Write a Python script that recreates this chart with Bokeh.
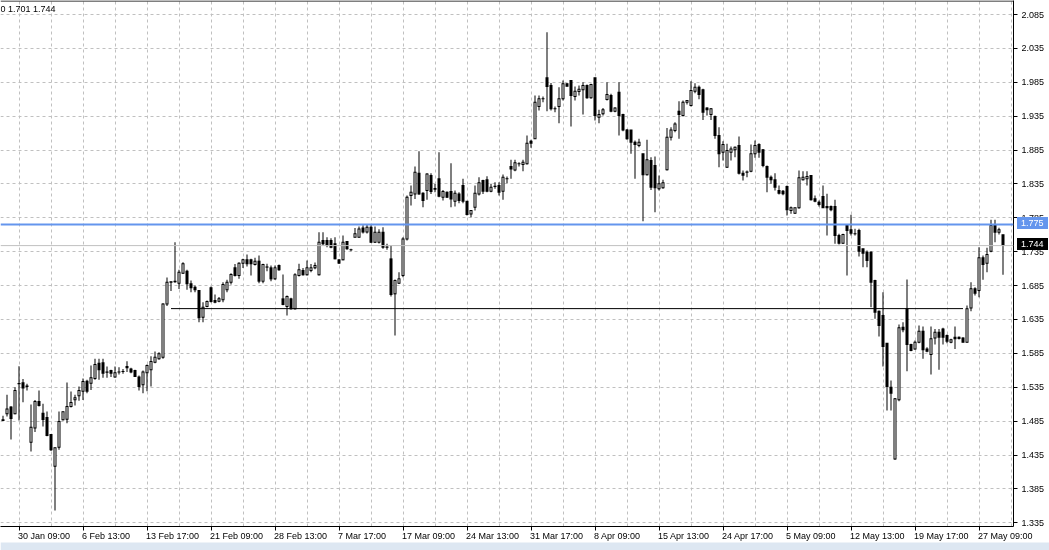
from bokeh.plotting import figure
from bokeh.models import Range1d, FixedTicker, Span, Label, ColumnDataSource, PrintfTickFormatter
from bokeh.core.properties import value
from bokeh.embed import file_html
from bokeh.resources import INLINE

# ---------------- data ----------------
opens = [
1.487,1.496,1.506,1.496,1.540,1.5415,1.537,1.454,1.475,1.514,
1.4967,1.4904,1.4653,1.4185,1.4466,1.4869,1.4879,1.5066,1.5164,1.5223,
1.5292,1.544,1.541,1.548,1.5705,1.571,1.557,1.5597,1.550,1.5573,
1.5582,1.5656,1.562,1.5597,1.550,1.5386,1.5563,1.5607,1.572,1.577,
1.5794,1.658,1.690,1.6913,1.6885,1.7033,1.7063,1.6876,1.6827,1.6777,
1.6384,1.6541,1.6817,1.6630,1.6620,1.6640,1.6787,1.690,1.7112,1.700,
1.718,1.7230,1.7230,1.7161,1.7210,1.6915,1.7122,1.7112,1.6949,1.7146,
1.6654,1.6541,1.6654,1.6507,1.6999,1.7073,1.7009,1.7073,1.7112,1.7009,
1.7515,1.7515,1.7515,1.7466,1.7230,1.7230,1.750,1.7377,1.7564,1.7564,
1.770,1.764,1.771,1.749,1.749,1.7638,1.7416,1.7244,1.6728,1.6885,
1.6998,1.7539,1.8179,1.8203,1.8508,1.8213,1.8252,1.8474,1.8282,1.8425,
1.8154,1.8228,1.8238,1.8095,1.8203,1.8326,1.8095,1.7908,1.8007,1.8203,
1.8400,1.841,1.8243,1.8312,1.8326,1.8243,1.8425,1.8607,1.8557,1.8646,
1.8636,1.8646,1.8981,1.9015,1.9492,1.9605,1.9915,1.9802,1.9458,1.9492,
1.9605,1.9827,1.9876,1.9640,1.9713,1.9738,1.9802,1.962,1.9915,1.9334,
1.9384,1.9595,1.9655,1.9423,1.9704,1.9374,1.9147,1.9147,1.8966,1.8917,
1.8794,1.8484,1.8695,1.8621,1.8277,1.8292,1.8558,1.9040,1.9138,1.9423,
1.9359,1.9556,1.9507,1.9718,1.9778,1.9738,1.9472,1.9374,1.9345,1.9064,
1.8818,1.8597,1.8818,1.8853,1.8917,1.8508,1.8523,1.8538,1.8794,1.8932,
1.8853,1.8607,1.8449,1.8410,1.8253,1.8243,1.8312,1.7958,1.7918,1.7997,
1.841,1.8425,1.8474,1.8130,1.8081,1.8164,1.8017,1.8017,1.8017,1.7589,
1.7476,1.7737,1.7673,1.7614,1.7663,1.7392,1.7343,1.7343,1.6925,1.6472,
1.6408,1.6000,1.5351,1.4290,1.5164,1.6236,1.6507,1.5980,1.5916,1.6015,
1.6177,1.5916,1.5833,1.6078,1.6162,1.6211,1.6113,1.6015,1.6088,1.6088,
1.6078,1.6015,1.6521,1.6802,1.6777,1.7259,1.7181,1.7358,1.7737,1.7638,
1.760]

highs = [
1.493,1.524,1.507,1.535,1.566,1.547,1.540,1.5095,1.516,1.530,
1.5105,1.4992,1.466,1.446,1.4992,1.4992,1.542,1.5287,1.5238,1.536,
1.548,1.546,1.567,1.577,1.577,1.577,1.5656,1.5607,1.5656,1.5646,
1.562,1.5735,1.5636,1.5607,1.5524,1.5597,1.5686,1.5809,1.5878,1.5868,
1.659,1.697,1.691,1.749,1.7082,1.7195,1.7082,1.6925,1.685,1.6777,
1.6605,1.663,1.6836,1.672,1.668,1.690,1.6935,1.7033,1.717,1.7195,
1.7245,1.7308,1.7245,1.726,1.7294,1.7171,1.7171,1.7146,1.7146,1.716,
1.7013,1.6704,1.667,1.7033,1.7171,1.711,1.722,1.717,1.719,1.7638,
1.7638,1.7564,1.755,1.7564,1.724,1.7589,1.750,1.7392,1.770,1.772,
1.774,1.776,1.774,1.772,1.768,1.771,1.7466,1.7441,1.694,1.7048,
1.7564,1.8179,1.8326,1.8607,1.8833,1.8228,1.8508,1.8508,1.835,1.8818,
1.8262,1.8238,1.8656,1.8252,1.8228,1.8425,1.8095,1.7967,1.8326,1.8449,
1.841,1.8464,1.8351,1.8376,1.8376,1.8488,1.8459,1.8705,1.8705,1.8671,
1.8705,1.9064,1.900,1.9655,1.9655,1.964,2.0589,1.9841,1.9492,1.9778,
1.9876,1.9837,1.9876,1.9787,1.9802,1.9851,1.9817,1.9827,1.9915,1.9443,
1.9472,1.9851,1.9679,1.9482,1.9851,1.9384,1.9162,1.9147,1.899,1.9015,
1.8794,1.900,1.8744,1.8754,1.8474,1.8410,1.9177,1.9187,1.9261,1.9571,
1.9581,1.9590,1.9866,1.9837,1.9802,1.9753,1.9482,1.9472,1.936,1.9187,
1.8981,1.8941,1.8902,1.8902,1.9049,1.8548,1.8548,1.8931,1.899,1.8952,
1.8867,1.8622,1.8474,1.8509,1.8326,1.8262,1.8327,1.8017,1.7997,1.8548,
1.8538,1.8538,1.8474,1.8179,1.8106,1.8327,1.8204,1.8031,1.8115,1.7614,
1.7614,1.7737,1.7894,1.7687,1.7687,1.7392,1.7368,1.7358,1.6935,1.6482,
1.6753,1.6000,1.5449,1.5190,1.6275,1.6310,1.6940,1.5990,1.6039,1.6261,
1.6246,1.5941,1.6246,1.6211,1.6211,1.6226,1.6128,1.6064,1.6246,1.6098,
1.6088,1.6556,1.6900,1.6826,1.7417,1.7294,1.7407,1.7820,1.7820,1.7702,
1.760]

lows = [
1.485,1.492,1.458,1.495,1.486,1.513,1.530,1.440,1.469,1.5066,
1.477,1.4628,1.441,1.353,1.4426,1.486,1.482,1.505,1.508,1.515,
1.516,1.526,1.531,1.546,1.546,1.549,1.549,1.550,1.549,1.5538,
1.5548,1.5573,1.5558,1.550,1.530,1.5263,1.5292,1.536,1.5705,1.5755,
1.577,1.655,1.677,1.689,1.680,1.7023,1.6787,1.6753,1.675,1.631,
1.631,1.653,1.660,1.659,1.6605,1.6605,1.6753,1.6866,1.6984,1.695,
1.711,1.713,1.700,1.7146,1.6885,1.6885,1.7063,1.6915,1.6935,1.707,
1.656,1.6408,1.6497,1.6497,1.6984,1.6999,1.6999,1.7048,1.709,1.6999,
1.7441,1.7417,1.740,1.7240,1.717,1.7225,1.7377,1.7358,1.7564,1.7560,
1.762,1.762,1.748,1.748,1.747,1.7392,1.738,1.6688,1.6113,1.6875,
1.6974,1.7515,1.8031,1.8129,1.819,1.8007,1.8115,1.8203,1.8228,1.8154,
1.8105,1.8144,1.8007,1.8016,1.8065,1.8065,1.7884,1.786,1.7957,1.8179,
1.8203,1.8228,1.8228,1.8277,1.8179,1.8115,1.8361,1.8425,1.8538,1.8607,
1.8538,1.8636,1.8882,1.9015,1.9433,1.9556,1.9423,1.9433,1.9408,1.9246,
1.9581,1.9787,1.9197,1.9581,1.9655,1.9374,1.9605,1.9605,1.9286,1.9246,
1.9359,1.958,1.9408,1.9408,1.9064,1.9128,1.900,1.8794,1.8425,1.8892,
1.7800,1.8474,1.8262,1.7933,1.8252,1.8277,1.8548,1.899,1.9113,1.9015,
1.9345,1.9522,1.9492,1.9689,1.9600,1.9295,1.9359,1.9295,1.9015,1.8597,
1.8695,1.8587,1.8695,1.8744,1.8489,1.8400,1.8449,1.8523,1.8735,1.8735,
1.8597,1.8228,1.8351,1.8253,1.8194,1.8184,1.7884,1.7909,1.7909,1.7983,
1.84,1.8327,1.8106,1.8081,1.8017,1.7997,1.7589,1.7948,1.7466,1.7456,
1.7466,1.6999,1.7589,1.7589,1.7279,1.7122,1.7122,1.6531,1.6359,1.6099,
1.5656,1.5007,1.5007,1.4279,1.5144,1.6162,1.5587,1.5882,1.5902,1.6000,
1.5769,1.5867,1.5538,1.5980,1.5607,1.5980,1.6000,1.6000,1.5916,1.6054,
1.6010,1.6010,1.6472,1.6704,1.6679,1.6935,1.7048,1.7343,1.7490,1.7604,
1.701]

closes = [
1.486,1.503,1.489,1.530,1.5405,1.534,1.536,1.476,1.514,1.508,
1.4874,1.4638,1.4426,1.4456,1.4844,1.4987,1.5066,1.5125,1.5194,1.5302,
1.5435,1.529,1.549,1.5686,1.5607,1.5558,1.5573,1.5558,1.5563,1.5575,
1.5584,1.5636,1.5573,1.5509,1.5361,1.5573,1.5671,1.573,1.5794,1.5843,
1.658,1.690,1.6905,1.6908,1.7048,1.7171,1.6876,1.6817,1.6787,1.6374,
1.6531,1.6615,1.6615,1.6605,1.6654,1.6866,1.690,1.7013,1.700,1.718,
1.723,1.7171,1.7171,1.7210,1.6915,1.7161,1.7125,1.6949,1.7112,1.7083,
1.6571,1.6689,1.6507,1.7009,1.7083,1.7009,1.7112,1.7112,1.7146,1.749,
1.7466,1.7441,1.7417,1.7245,1.7181,1.749,1.7392,1.7380,1.7614,1.7685,
1.764,1.771,1.749,1.7638,1.7638,1.7416,1.7420,1.6718,1.6924,1.6949,
1.7539,1.8154,1.8228,1.8523,1.8203,1.8105,1.8498,1.8238,1.8272,1.8169,
1.8238,1.8154,1.8129,1.8213,1.8105,1.8095,1.7898,1.7957,1.8213,1.8366,
1.8243,1.8243,1.8302,1.8314,1.8228,1.8449,1.8427,1.8572,1.8661,1.8648,
1.8671,1.8951,1.8951,1.9556,1.9605,1.9607,1.9787,1.9458,1.9460,1.9605,
1.9827,1.9792,1.9655,1.9718,1.9748,1.9802,1.962,1.9817,1.9359,1.9374,
1.9443,1.9669,1.9423,1.9472,1.9359,1.9147,1.9015,1.8966,1.8931,1.8966,
1.8484,1.8705,1.8302,1.8292,1.8351,1.8366,1.9040,1.9147,1.9236,1.9374,
1.9556,1.9581,1.9728,1.9778,1.9669,1.9409,1.9443,1.9458,1.9064,1.8794,
1.8931,1.8843,1.8867,1.8892,1.8508,1.8479,1.8525,1.8794,1.8917,1.8819,
1.8622,1.8449,1.8410,1.8302,1.8213,1.8204,1.7968,1.7997,1.7997,1.844,
1.8450,1.846,1.8115,1.8096,1.8046,1.7997,1.7997,1.7968,1.7589,1.7476,
1.7604,1.7663,1.7623,1.7616,1.7358,1.7328,1.7220,1.6900,1.6458,1.6261,
1.5951,1.5361,1.5262,1.5179,1.6226,1.6197,1.5980,1.5892,1.6015,1.6177,
1.5902,1.5882,1.6064,1.6162,1.6088,1.6088,1.6030,1.6049,1.6064,1.6069,
1.6015,1.6507,1.6802,1.6738,1.7259,1.7161,1.7308,1.7737,1.7638,1.7672,
1.744]

date_label_bars = [4, 20, 36, 52, 68, 84, 100, 116, 132, 148, 164, 180, 196, 212, 228, 244]
date_labels = ["30 Jan 09:00", "6 Feb 13:00", "13 Feb 17:00", "21 Feb 09:00",
               "28 Feb 13:00", "7 Mar 17:00", "17 Mar 09:00", "24 Mar 13:00",
               "31 Mar 17:00", "8 Apr 09:00", "15 Apr 13:00", "24 Apr 17:00",
               "5 May 09:00", "12 May 13:00", "19 May 17:00", "27 May 09:00"]
price_ticks = [1.335, 1.385, 1.435, 1.485, 1.535, 1.585, 1.635, 1.685, 1.735,
               1.785, 1.835, 1.885, 1.935, 1.985, 2.035, 2.085]

resistance_level = 1.775
bid_price = 1.744
support_level = 1.651
support_from_bar, support_to_bar = 42, 240
header_text = "0 1.701 1.744"

# ---------------- geometry / styling ----------------
W, H = 1049, 550
FRAME_R, FRAME_B = 1013, 526
PX_PER_BAR, FIRST_BAR_PX = 4.0, 2.5
PX_PER_PRICE, REF_PRICE, REF_PX = 677.7, 2.085, 14.0
FONT = "Liberation Sans"
HALF_PX = 0.5 / PX_PER_PRICE          # half a pixel, in price units

def price_at_px(py):
    return REF_PRICE - (py - REF_PX) / PX_PER_PRICE

def bar_at_px(px):
    return (px - FIRST_BAR_PX) / PX_PER_BAR

x_start = bar_at_px(0)

# ---------------- main chart ----------------
p = figure(width=W, height=H, title=None,
           x_range=Range1d(x_start, bar_at_px(FRAME_R)),
           y_range=Range1d(price_at_px(FRAME_B), price_at_px(0)),
           output_backend="svg", toolbar_location=None, y_axis_location="right",
           min_border_left=0, min_border_top=0,
           min_border_right=W - FRAME_R, min_border_bottom=H - FRAME_B,
           background_fill_color="white", border_fill_color="white",
           outline_line_color=None)
p.styles = {"position": "fixed", "left": "0px", "top": "0px"}

p.xgrid.ticker = FixedTicker(ticks=list(range(4, 253, 8)))
p.ygrid.ticker = FixedTicker(ticks=price_ticks)
for g in (p.xgrid, p.ygrid):
    g.grid_line_color = "#c0c0c0"
    g.grid_line_dash = "3 3"
    g.grid_line_width = 1

yax = p.yaxis[0]
yax.ticker = FixedTicker(ticks=price_ticks)
yax.formatter = PrintfTickFormatter(format="%.3f")
yax.minor_tick_line_color = None
yax.major_tick_in = 0
yax.major_tick_out = 4
yax.major_label_standoff = 4
yax.axis_line_color = "black"
yax.major_tick_line_color = "black"
yax.major_label_text_font = FONT
yax.major_label_text_font_size = "9px"
yax.major_label_text_color = "black"

xax = p.xaxis[0]
xax.ticker = FixedTicker(ticks=date_label_bars)
xax.major_label_overrides = {b: "" for b in date_label_bars}
xax.minor_tick_line_color = None
xax.major_tick_in = 0
xax.major_tick_out = 4
xax.axis_line_color = "black"
xax.major_tick_line_color = "black"

p.add_layout(Span(location=price_at_px(0.5), dimension="width", line_color="black", line_width=1))

# candles: 1px wick, 3px body (black outline), 1px white core for rising bars
bars = list(range(len(opens)))
body_top = [max(o, c) for o, c in zip(opens, closes)]
body_bot = [min(o, c) for o, c in zip(opens, closes)]
src = ColumnDataSource(dict(x=bars, low=lows, high=highs,
                            otop=[t + HALF_PX for t in body_top],
                            obot=[b - HALF_PX for b in body_bot]))
up = [i for i in bars if closes[i] >= opens[i] and body_top[i] - body_bot[i] > 2 * HALF_PX]
core = ColumnDataSource(dict(x=up,
                             top=[body_top[i] - HALF_PX for i in up],
                             bot=[body_bot[i] + HALF_PX for i in up]))
p.vbar(x="x", width=1 / PX_PER_BAR, top="high", bottom="low", source=src,
       fill_color="black", line_color=None)
p.vbar(x="x", width=3 / PX_PER_BAR, top="otop", bottom="obot", source=src,
       fill_color="black", line_color=None)
p.vbar(x="x", width=1 / PX_PER_BAR, top="top", bottom="bot", source=core,
       fill_color="white", line_color=None)

p.segment(x0=[support_from_bar], x1=[support_to_bar], y0=[support_level], y1=[support_level],
          line_color="black", line_width=1)
p.add_layout(Span(location=bid_price, dimension="width", line_color="#c0c0c0", line_width=1))
p.add_layout(Span(location=resistance_level, dimension="width", line_color="#6495ED", line_width=2))

p.add_layout(Label(x=x_start, y=price_at_px(8.5), text=header_text, text_align="left",
                   text_baseline="middle", text_font=FONT, text_font_size="9px", text_color="black"))

# ---------------- overlay (same coordinates, full-canvas frame) ----------------
ov = figure(width=W, height=H, title=None,
            x_range=Range1d(x_start, bar_at_px(W)),
            y_range=Range1d(price_at_px(H), price_at_px(0)),
            output_backend="svg", toolbar_location=None,
            x_axis_location=None, y_axis_location=None,
            min_border_left=0, min_border_right=0, min_border_top=0, min_border_bottom=0,
            outline_line_color=None, background_fill_alpha=0, border_fill_alpha=0)
ov.grid.visible = False
ov.styles = {"position": "fixed", "left": "0px", "top": "0px"}

# tab strip under the chart
ov.quad(left=[x_start], right=[bar_at_px(W)], top=[price_at_px(542)], bottom=[price_at_px(H)],
        fill_color="#dde7f2", line_color=None)

# time labels, left-aligned at their ticks (MT4 style)
ov.text(x=date_label_bars, y=[price_at_px(535)] * len(date_label_bars), text=date_labels,
        text_align="left", text_baseline="middle", x_offset=-1,
        text_font=value(FONT), text_font_size=value("9px"), text_color="black")

# price boxes on the axis
box_levels = [resistance_level, bid_price]
box_colors = ["#6495ED", "black"]
box_h = 12 / PX_PER_PRICE
ov.quad(left=[bar_at_px(FRAME_R + 3.5)] * 2, right=[bar_at_px(W - 1.5)] * 2,
        top=[v + box_h / 2 + 1.5 / PX_PER_PRICE for v in box_levels],
        bottom=[v - box_h / 2 + 1.5 / PX_PER_PRICE for v in box_levels],
        fill_color=box_colors, line_color=None)
ov.text(x=[bar_at_px(FRAME_R + 7.5)] * 2, y=[v + 1.5 / PX_PER_PRICE for v in box_levels],
        text=["%.3f" % v for v in box_levels], text_align="left", text_baseline="middle",
        text_font=value(FONT), text_font_size=value("9px"), text_color="white")

open("out.html", "w").write(file_html([p, ov], INLINE))
